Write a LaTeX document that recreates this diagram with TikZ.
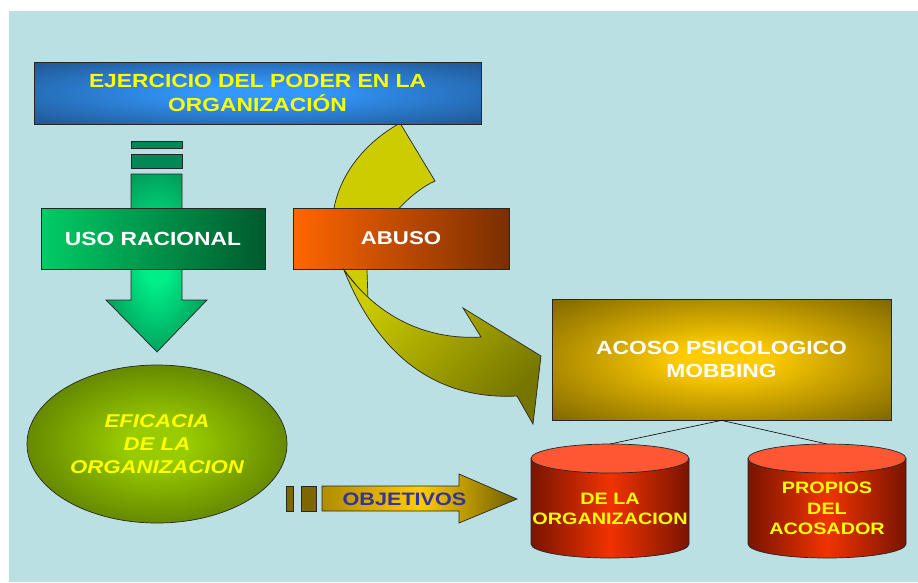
\documentclass[tikz,border=0pt]{standalone}
\usepackage{fontspec}
\setmainfont{Liberation Sans}[FakeStretch=1.2]
\usetikzlibrary{shapes.geometric}
\definecolor{bg}{HTML}{BBE0E3}
\definecolor{blueC}{HTML}{3399FF}
\definecolor{blueE}{HTML}{1D4C80}
\definecolor{yel}{HTML}{FFFF00}
\definecolor{grnL}{HTML}{00CC66}
\definecolor{grnD}{HTML}{005A2D}
\definecolor{grnBar}{HTML}{008855}
\definecolor{grnC}{HTML}{00EE88}
\definecolor{grnE}{HTML}{006B3C}
\definecolor{orL}{HTML}{FF6600}
\definecolor{orD}{HTML}{7A2E00}
\definecolor{ylwA}{HTML}{CCCC00}
\definecolor{ylwB}{HTML}{757500}
\definecolor{olC}{HTML}{99CC00}
\definecolor{olE}{HTML}{3F5500}
\definecolor{gdC}{HTML}{FFCC00}
\definecolor{gdE}{HTML}{6B5700}
\definecolor{gdL}{HTML}{B08C00}
\definecolor{gdR}{HTML}{6E5E00}
\definecolor{barG}{HTML}{806600}
\definecolor{purp}{HTML}{333399}
\definecolor{redD}{HTML}{7A1400}
\definecolor{redC}{HTML}{F03300}
\definecolor{coral}{HTML}{FF5733}
\colorlet{rinner}{white}
\colorlet{router}{black}
\pgfdeclareradialshading[rinner,router]{softradial}{\pgfpoint{0bp}{0bp}}{color(0bp)=(rinner); color(6bp)=(rinner); color(40bp)=(router); color(72bp)=(router)}
\begin{document}
\begin{tikzpicture}[x=1pt,y=-1pt,
  rad/.code 2 args={\colorlet{rinner}{#1}\colorlet{router}{#2}\tikzset{shade, shading=softradial}},
  outl/.style={draw=black!85, line width=0.7pt},
  boxnode/.style={outl, rectangle, inner sep=0pt, align=center, font=\fontsize{19}{24}\selectfont\bfseries},
  cyltext/.style={inner sep=0pt, align=center, text=yel, font=\fontsize{16.5}{20.5}\selectfont\bfseries}]
\useasboundingbox (0,0) rectangle (918,582);
\fill[white] (0,0) rectangle (918,582);
\fill[bg] (9,11) rectangle (918,582);

% green arrow and bars
\filldraw[outl, fill=grnBar] (131,141) rectangle (182,148);
\filldraw[outl, fill=grnBar] (131,154) rectangle (182,168);
\path[outl, rad={grnC}{grnE}] (131,174) -- (182,174) -- (182,300) -- (207,300) -- (157,352) -- (106,300) -- (131,300) -- cycle;

% USO RACIONAL
\node[boxnode, minimum width=224pt, minimum height=61pt, left color=grnL, right color=grnD, text=white] (uso) at (153,238.5) {USO RACIONAL};

% yellow curved arrow: back band
\path[outl, fill=ylwA] (400,123) -- (435,181) .. controls (410,192) and (372,230) .. (367,270) -- (368,300) -- (344,270) .. controls (318,225) and (335,160) .. (400,123) -- cycle;

% top box
\node[boxnode, minimum width=447pt, minimum height=62pt, rad={blueC}{blueE}, text=yel] (ejer) at (257.5,93) {EJERCICIO DEL PODER EN LA\\ORGANIZACIÓN};

% ABUSO
\node[boxnode, minimum width=216pt, minimum height=61pt, left color=orL, right color=orD, text=white, font=\fontsize{18.5}{22}\selectfont\bfseries] (abuso) at (401,238.5) {ABUSO};

% yellow curved arrow: front band
\path[outl, top color=ylwA, bottom color=ylwB, shading angle=45] (344,270) .. controls (380,320) and (430,340) .. (481,337) -- (463,308) -- (541,356) -- (533,424) -- (517,396) .. controls (440,400) and (380,360) .. (344,270) -- cycle;

% ellipse
\node[outl, ellipse, inner sep=0pt, minimum width=260pt, minimum height=158pt, rad={olC}{olE}, text=yel, align=center, font=\fontsize{18.5}{23}\selectfont\bfseries\itshape] (efic) at (157,444) {EFICACIA\\DE LA\\ORGANIZACION};

% OBJETIVOS arrow
\filldraw[outl, fill=barG] (286,486) rectangle (293,511);
\filldraw[outl, fill=barG] (301,486) rectangle (316,511);
\path[outl, left color=gdL, right color=gdR, middle color=gdC] (322,486) -- (459,486) -- (459,474) -- (517,499) -- (459,523) -- (459,511) -- (322,511) -- cycle;
\node[inner sep=0pt, text=purp, font=\fontsize{18}{22}\selectfont\bfseries] (obj) at (404.5,499) {OBJETIVOS};

% mobbing box
\node[boxnode, minimum width=339pt, minimum height=121pt, rad={gdC}{gdE}, text=white, font=\fontsize{19}{23}\selectfont\bfseries] (mob) at (721.5,359.5) {ACOSO PSICOLOGICO\\MOBBING};

% connectors
\coordinate (cylAtop) at (610,444);
\coordinate (cylBtop) at (827,444);
\draw[black, line width=0.6pt] (mob.south) -- (cylAtop);
\draw[black, line width=0.6pt] (mob.south) -- (cylBtop);

% cylinders
\path[outl, left color=redD, right color=redD, middle color=redC] (531,458.5) -- (531,544) arc (180:0:79 and 14) -- (689,458.5) -- cycle;
\filldraw[outl, fill=coral] (610,458.5) ellipse (79 and 14.5);
\node[cyltext] (cylA) at (610,509) {DE LA\\ORGANIZACION};

\path[outl, left color=redD, right color=redD, middle color=redC] (748,458.5) -- (748,544) arc (180:0:79 and 14) -- (906,458.5) -- cycle;
\filldraw[outl, fill=coral] (827,458.5) ellipse (79 and 14.5);
\node[cyltext] (cylB) at (827,508.5) {PROPIOS\\DEL\\ACOSADOR};
\end{tikzpicture}
\end{document}
